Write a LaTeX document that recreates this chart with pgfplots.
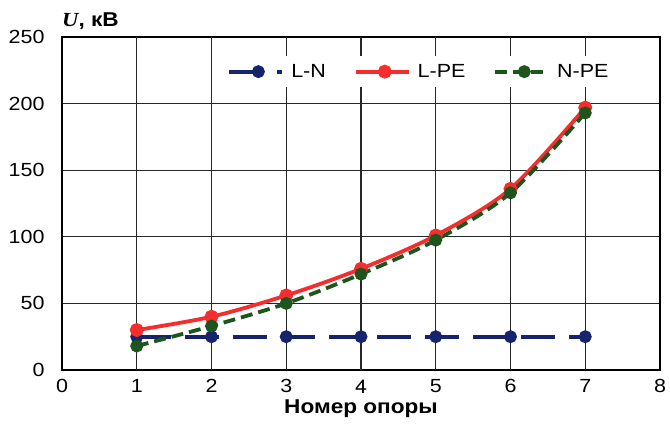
\documentclass[border=0pt]{standalone}
\usepackage{fontspec}
\setmainfont{Liberation Sans}[FakeStretch=1.13]
\newfontfamily\serifU{Liberation Serif}[FakeStretch=1.13]
\newfontfamily\heros{TeX Gyre Heros}[FakeStretch=1.13]
\usepackage{pgfplots}
\pgfplotsset{compat=1.18}
\definecolor{lnblue}{RGB}{22,36,110}
\definecolor{lpered}{RGB}{245,45,45}
\definecolor{npegreen}{RGB}{30,85,30}
\begin{document}
\begin{tikzpicture}
\useasboundingbox (-62pt,-55pt) rectangle (608pt,370pt);
\begin{axis}[
  at={(0pt,0pt)}, anchor=south west,
  scale only axis, width=598pt, height=333pt,
  xmin=0, xmax=8, ymin=0, ymax=250,
  xtick={0,1,...,8}, ytick={0,50,...,250},
  xticklabels={0,1,2,3,{\heros 4},5,6,7,8},
  xtick pos=bottom, ytick pos=left,
  major tick length=0pt,
  xmajorgrids=false, ymajorgrids=true,
  major grid style={black!85, line width=1.3pt},
  axis line style={black, line width=1.6pt},
  font=\fontsize{19}{22}\selectfont,
  /pgf/number format/assume math mode=true,
  xticklabel style={yshift=-6pt},
  yticklabel style={xshift=-14pt},
  xlabel={\fontsize{20}{22}\selectfont\textbf{Номер опоры}},
  xlabel style={yshift=0pt},
  legend style={draw=none, fill=white, at={(0.597,0.896)}, anchor=center,
    legend columns=3, inner xsep=8pt, inner ysep=6pt,
    /tikz/every odd column/.append style={column sep=5pt},
    /tikz/every even column/.append style={column sep=26pt},
    font=\fontsize{19}{22}\selectfont},
  legend image code/.code={
    \draw[#1] (0pt,0pt) -- (53pt,0pt);
    \draw[#1, solid] plot coordinates {(29pt,0pt)};
  },
]
\pgfplotsinvokeforeach{1,...,7}{
  \draw[black!85, line width=1.3pt] (axis cs:#1,0) -- (axis cs:#1,250);
}
\addplot[lnblue, line width=3.8pt, dash pattern=on 34pt off 14pt, mark=*, mark size=4.5pt, mark options={solid}]
  coordinates {(1,25) (2,25) (3,25) (4,25) (5,25) (6,25) (7,25)};
\addlegendentry{L-N}
\addplot[lpered, line width=3.8pt, smooth, mark=*, mark size=5pt, mark options={solid}]
  coordinates {(1,30) (2,40) (3,56) (4,76) (5,101) (6,136) (7,197)};
\addlegendentry{L-PE}
\addplot[npegreen, line width=3.8pt, smooth, dash pattern=on 12pt off 6pt, mark=*, mark size=4.5pt, mark options={solid}]
  coordinates {(1,18) (2,33) (3,50) (4,72) (5,97.5) (6,133) (7,193)};
\addlegendentry{N-PE}
\end{axis}
\node[anchor=south west, inner sep=0pt, font=\fontsize{20}{22}\selectfont] at (0pt,340pt) {{\serifU\bfseries\itshape U}\textbf{, кВ}};
\end{tikzpicture}
\end{document}
